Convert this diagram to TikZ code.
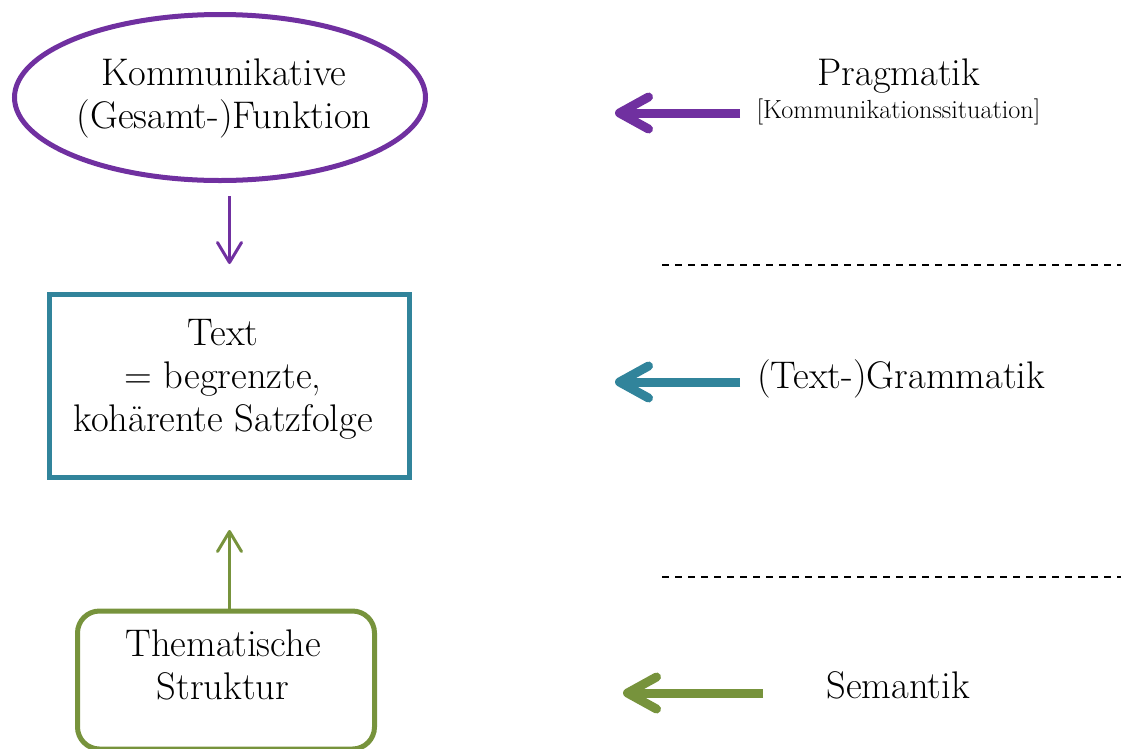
\documentclass[tikz,border=0pt]{standalone}
\usepackage{fontspec}
\usetikzlibrary{arrows.meta,shapes.geometric}
\definecolor{kfpurple}{HTML}{7030A0}
\definecolor{kfteal}{HTML}{31849B}
\definecolor{kfgreen}{HTML}{77933C}

\begin{document}
\begin{tikzpicture}[x=1pt,y=-1pt,
  lbl/.style={font=\fontsize{38.5}{43}\selectfont, align=center, inner sep=0pt},
  smalllbl/.style={font=\fontsize{26.2}{30}\selectfont, inner sep=0pt},
  thinarrow/.style={line width=3pt, -{Straight Barb[length=20pt,width=24pt,round]}},
  thickarrow/.style={line width=9pt, -{Straight Barb[length=29pt,width=32pt,round]}},
  sepline/.style={line width=1.2pt, dash pattern=on 7pt off 6pt}]

\useasboundingbox (0,0) rectangle (1121,748);

% left column: function, text, thematic structure
\node[ellipse, draw=kfpurple, line width=5pt, minimum width=411pt,
      minimum height=166pt, inner sep=0pt] (func) at (220,97.5) {};
\node[lbl] (functxt) at (224,98) {Kommunikative\\(Gesamt-)Funktion};

\node[rectangle, draw=kfteal, line width=5pt, minimum width=360pt,
      minimum height=183pt, inner sep=0pt] (textbox) at (229.5,386) {};
\node[lbl] (texttxt) at (223,379) {Text\\= begrenzte,\\kohärente Satzfolge};

\node[rectangle, rounded corners=22pt, draw=kfgreen, line width=5pt,
      minimum width=297pt, minimum height=138pt, inner sep=0pt] (theme) at (226,680) {};
\node[lbl] (themetxt) at (223,665) {Thematische\\Struktur};

\draw[kfpurple, thinarrow, shorten <=13pt, shorten >=28pt]
  (textbox.north |- func.south) -- (textbox.north);
\draw[kfgreen, thinarrow, shorten >=50pt]
  (textbox.south |- theme.north) -- (textbox.south);

% right column: levels
\node[lbl, anchor=base] (prag) at (899,85) {Pragmatik};
\node[smalllbl, anchor=base] (kom) at (898.5,118) {[Kommunikationssituation]};
\node[lbl, anchor=base west] (gram) at (757,388) {(Text-)Grammatik};
\node[lbl, anchor=base] (sem) at (898,698) {Semantik};

\coordinate (pa) at (740,113);  \coordinate (pb) at (615,113);
\coordinate (ga) at (740,382);  \coordinate (gb) at (615,382);
\coordinate (sa) at (763,693);  \coordinate (sb) at (623,693);
\draw[kfpurple, thickarrow] (pa) -- (pb);
\draw[kfteal, thickarrow] (ga) -- (gb);
\draw[kfgreen, thickarrow] (sa) -- (sb);

\coordinate (d1a) at (662,265); \coordinate (d1b) at (1121,265);
\coordinate (d2a) at (662,577); \coordinate (d2b) at (1121,577);
\draw[sepline] (d1a) -- (d1b);
\draw[sepline] (d2a) -- (d2b);
\end{tikzpicture}
\end{document}
